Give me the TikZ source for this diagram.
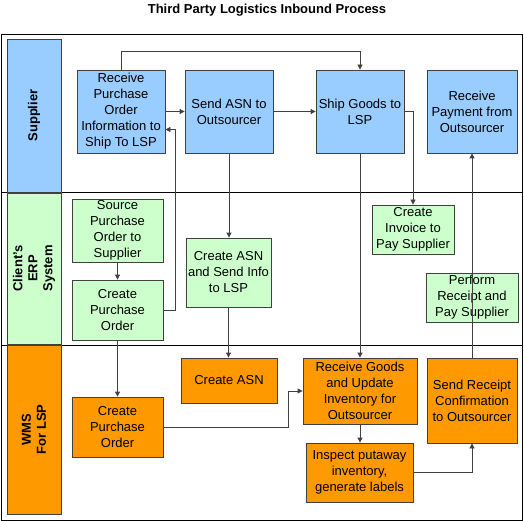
\documentclass[tikz,border=0pt]{standalone}
\usepackage{fontspec}
\setmainfont{Liberation Sans}
\usetikzlibrary{arrows.meta}
\definecolor{supblue}{HTML}{99CCFF}
\definecolor{erpgreen}{HTML}{CCFFCC}
\definecolor{wmsorange}{HTML}{FF9900}
\definecolor{linegray}{HTML}{404040}
\tikzset{
    every picture/.style={
        x=1pt,y=-1pt,line width=.8pt,>={Triangle[length=5pt,width=5pt]},
        font=\fontsize{13}{16}\selectfont,
        task/.style={draw=linegray,align=center,inner sep=0pt},
        supplier/.style={task,fill=supblue},
        erp/.style={task,fill=erpgreen},
        wms/.style={task,fill=wmsorange},
        lane/.style={task,rotate=90,minimum height=54,font=\fontsize{13}{15}\bfseries}
    }
}

\begin{document}
\begin{tikzpicture}
    \useasboundingbox (0,0) rectangle (524,521);
    \node (title) at (267,10) {\bfseries Third Party Logistics Inbound Process};
    \draw (1,34) rectangle (522,520);
    \draw (1,192.5) -- (522,192.5);
    \draw (1,345) -- (522,345);
    % swim lanes
    \node[lane,fill=supblue,minimum width=153]   (lane1) at (34,115.5) {Supplier};
    \node[lane,fill=erpgreen,minimum width=151]  (lane2) at (34,268.5) {Client's\\ERP\\System};
    \node[lane,fill=wmsorange,minimum width=169] (lane3) at (34,429.5) {WMS\\For LSP};
    % supplier
    \node[supplier,minimum width=88,minimum height=83]  (0) at (121,111.5) {Receive\\Purchase\\Order\\Information to\\Ship To LSP};
    \node[supplier,minimum width=88,minimum height=83]  (1) at (229,111.5) {Send ASN to\\Outsourcer};
    \node[supplier,minimum width=88,minimum height=83]  (2) at (360,111.5) {Ship Goods to\\LSP};
    \node[supplier,minimum width=90,minimum height=83]  (3) at (472,111.5) {Receive\\Payment from\\Outsourcer};
    % client's erp
    \node[erp,minimum width=91,minimum height=63]  (4) at (117.5,230.5) {Source\\Purchase\\Order to\\Supplier};
    \node[erp,minimum width=91,minimum height=60]  (5) at (117.5,310) {Create\\Purchase\\Order};
    \node[erp,minimum width=85,minimum height=69]  (6) at (228.5,272.5) {Create ASN\\and Send Info\\to LSP};
    \node[erp,minimum width=82,minimum height=49]  (7) at (413,229.5) {Create\\Invoice to\\Pay Supplier};
    \node[erp,minimum width=92,minimum height=49]  (8) at (472,297.5) {Perform\\Receipt and\\Pay Supplier};
    % wms
    \node[wms,minimum width=91,minimum height=60]   (9) at (117.5,427) {Create\\Purchase\\Order};
    \node[wms,minimum width=96,minimum height=45]  (10) at (229,380.5) {Create ASN};
    \node[wms,minimum width=114,minimum height=66] (11) at (360,391) {Receive Goods\\and Update\\Inventory for\\Outsourcer};
    \node[wms,minimum width=107,minimum height=59] (12) at (359.5,472.5) {Inspect putaway\\inventory,\\generate labels};
    \node[wms,minimum width=90,minimum height=85]  (13) at (472,400.5) {Send Receipt\\Confirmation\\to Outsourcer};
    % flows
    \draw[->,linegray] (0.north) -- ++(0,-18) -| (2.north);
    \draw[->,linegray] (0) -- (1);
    \draw[->,linegray] (1) -- (2);
    \draw[->,linegray] (5.east) -- ++(12,0) |- ([yshift=-18pt]0.east);
    \draw[->,linegray] (4) -- (5);
    \draw[->,linegray] (1.south) -- (1.south |- 6.north);
    \draw[->,linegray] (6.south) -- (6.south |- 10.north);
    \draw[->,linegray] (5) -- (9);
    \draw[->,linegray] (9.east) -- ++(125,0) |- (11.west);
    \draw[->,linegray] (2) -- (11);
    \draw[->,linegray] (2.east) -| (7.north);
    \draw[->,linegray] (11.south) -- (11.south |- 12.north);
    \draw[->,linegray] (12.east) -| (13.south);
    \draw[->,linegray] (13) -- (3);
\end{tikzpicture}
\end{document}
